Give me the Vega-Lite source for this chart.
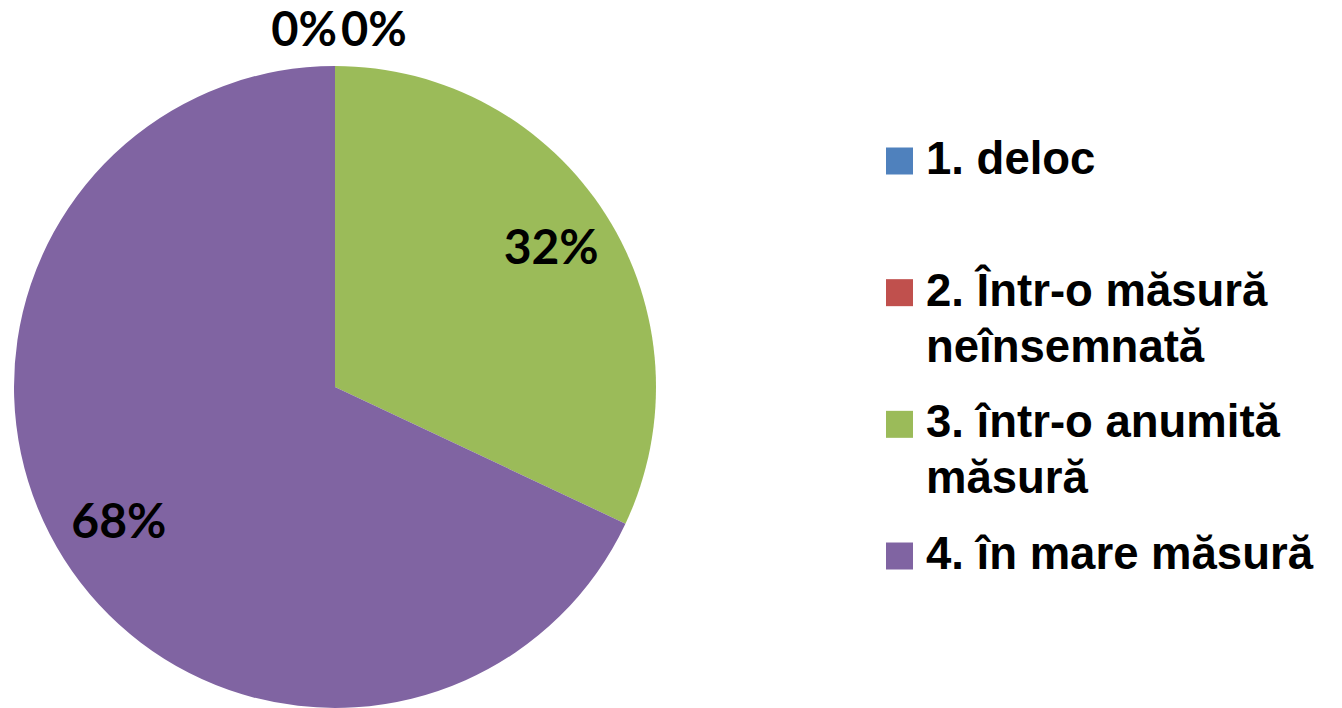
{
  "$schema": "https://vega.github.io/schema/vega-lite/v6.json",
  "background": "white",
  "padding": 0,
  "spacing": 216,
  "config": {"view": {"stroke": null}},
  "datasets": {
    "answers": [
      {"cat": "1. deloc", "legend": "1. deloc", "share": 0, "label": "0%"},
      {"cat": "2. Într-o măsură neînsemnată", "legend": "2. Într-o măsură\nneînsemnată", "share": 0, "label": "0%"},
      {"cat": "3. într-o anumită măsură", "legend": "3. într-o anumită\nmăsură", "share": 32, "label": "32%"},
      {"cat": "4. în mare măsură", "legend": "4. în mare măsură", "share": 68, "label": "68%"}
    ]
  },
  "hconcat": [
    {
      "width": 670,
      "height": 774,
      "data": {"name": "answers"},
      "encoding": {
        "theta": {"field": "share", "type": "quantitative", "stack": true}
      },
      "layer": [
        {
          "mark": {"type": "arc", "outerRadius": 321, "strokeWidth": 0},
          "encoding": {
            "color": {
              "field": "cat", "type": "nominal", "legend": null,
              "scale": {"domain": ["1. deloc", "2. Într-o măsură neînsemnată", "3. într-o anumită măsură", "4. în mare măsură"],
                        "range": ["#4F81BD", "#C0504D", "#9BBB59", "#8064A2"]}
            }
          }
        },
        {
          "mark": {"type": "text", "radius": 256, "font": "Lato", "fontWeight": "bold", "fontSize": 48, "color": "black", "baseline": "middle", "align": "center"},
          "encoding": {
            "text": {"condition": {"test": "datum.share > 0", "field": "label"}, "value": ""}
          }
        },
        {
          "mark": {"type": "text", "radius": 355, "font": "Lato", "fontWeight": "bold", "fontSize": 47, "color": "black", "baseline": "middle", "align": "right", "dx": 2},
          "encoding": {
            "text": {"condition": {"test": "datum.cat == '1. deloc'", "field": "label"}, "value": ""}
          }
        },
        {
          "mark": {"type": "text", "radius": 355, "font": "Lato", "fontWeight": "bold", "fontSize": 47, "color": "black", "baseline": "middle", "align": "left", "dx": 6},
          "encoding": {
            "text": {"condition": {"test": "datum.cat == '2. Într-o măsură neînsemnată'", "field": "label"}, "value": ""}
          }
        }
      ]
    },
    {
      "width": 456,
      "height": 708,
      "data": {"name": "answers"},
      "encoding": {
        "y": {"field": "cat", "type": "ordinal", "axis": null, "sort": null,
              "scale": {"type": "point", "range": [161, 556], "padding": 0}}
      },
      "layer": [
        {
          "mark": {"type": "point", "shape": "square", "filled": true, "size": 729, "opacity": 1, "strokeWidth": 0},
          "encoding": {
            "x": {"value": 13.5},
            "color": {
              "field": "cat", "type": "nominal", "legend": null,
              "scale": {"domain": ["1. deloc", "2. Într-o măsură neînsemnată", "3. într-o anumită măsură", "4. în mare măsură"],
                        "range": ["#4F81BD", "#C0504D", "#9BBB59", "#8064A2"]}
            }
          }
        },
        {
          "mark": {"type": "text", "font": "Liberation Sans", "fontWeight": "bold", "fontSize": 45.5, "color": "black", "align": "left", "baseline": "middle", "lineBreak": "\n", "lineHeight": 56, "dy": -1},
          "encoding": {
            "x": {"value": 40},
            "text": {"field": "legend"}
          }
        }
      ]
    }
  ]
}
